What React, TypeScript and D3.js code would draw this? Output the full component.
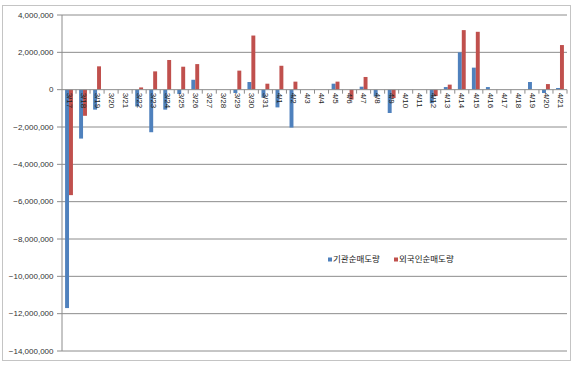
import React from "react";
import * as d3 from "d3";

const categories = [
  "3/17","3/18","3/19","3/20","3/21","3/22","3/23","3/24","3/25","3/26","3/27","3/28","3/29","3/30","3/31",
  "4/1","4/2","4/3","4/4","4/5","4/6","4/7","4/8","4/9","4/10","4/11","4/12","4/13","4/14","4/15","4/16","4/17","4/18","4/19","4/20","4/21",
];
const institution = [
  -11700000,-2620000,-1070000,0,0,-900000,-2280000,-1070000,-230000,530000,0,0,-180000,410000,-430000,
  -950000,-2030000,0,0,320000,0,160000,-370000,-1250000,0,0,-730000,140000,2000000,1180000,140000,0,0,410000,-180000,90000,
];
const foreign = [
  -5650000,-1400000,1250000,0,0,120000,980000,1590000,1230000,1370000,0,0,1020000,2900000,320000,
  1280000,430000,0,0,430000,-530000,680000,0,-450000,0,0,-340000,270000,3190000,3100000,0,0,0,0,300000,2390000,
];
const seriesNames = ["기관순매도량", "외국인순매도량"];
const seriesColors = ["#4F81BD", "#C0504D"];
const yTicks = [4000000, 2000000, 0, -2000000, -4000000, -6000000, -8000000, -10000000, -12000000, -14000000];

export default function App() {
  const W = 580, H = 365;
  const left = 62, right = 567, top = 15, bottom = 351;
  const y = d3.scaleLinear().domain([-14000000, 4000000]).range([bottom, top]);
  const x = d3.scaleBand<string>().domain(categories).range([left, right]).paddingInner(0).paddingOuter(0);
  const bw = x.bandwidth();
  const barW = bw * 0.28;
  const fmt = d3.format(",");
  const y0 = y(0);
  const series = [institution, foreign];
  const font = "Liberation Sans, Arial, sans-serif";

  return (
    <svg width={W} height={H} style={{ position: "absolute", left: 0, top: 0, background: "#fff" }}>
      <rect x={2.5} y={5.5} width={568} height={355} fill="#fff" stroke="#c4c4c4" />
      {yTicks.map((t) => (
        <g key={t}>
          {t !== 0 && <line x1={left} x2={right} y1={y(t)} y2={y(t)} stroke="#8c8c8c" strokeWidth={1} />}
          <line x1={left - 5} x2={left} y1={y(t)} y2={y(t)} stroke="#8c8c8c" />
          <text x={53.5} y={y(t)} dy="0.35em" textAnchor="end" fontSize={8} fontFamily={font} fill="#333">
            {fmt(t)}
          </text>
        </g>
      ))}
      <line x1={left} x2={left} y1={top} y2={bottom} stroke="#8c8c8c" />
      {series.map((vals, si) =>
        vals.map((v, i) => {
          if (v === 0) return null;
          const cx = (x(categories[i]) as number) + bw / 2;
          const bx = si === 0 ? cx - barW : cx;
          return (
            <rect key={`${si}-${i}`} x={bx} width={barW} y={Math.min(y(v), y0)} height={Math.abs(y(v) - y0)} fill={seriesColors[si]} />
          );
        })
      )}
      <line x1={left} x2={right} y1={y0} y2={y0} stroke="#8c8c8c" />
      {categories.map((c, i) => (
        <line key={`t${i}`} x1={(x(c) as number) + bw} x2={(x(c) as number) + bw} y1={y0} y2={y0 + 4} stroke="#8c8c8c" />
      ))}
      {categories.map((c) => {
        const cx = (x(c) as number) + bw / 2 + 0.5;
        return (
          <text key={`l${c}`} transform={`translate(${cx},${y0 + 3}) rotate(90)`} fontSize={8} fontFamily={font} fill="#222" dy="0.35em">
            {c}
          </text>
        );
      })}
      <g fontFamily="Noto Sans CJK KR, sans-serif" fontSize={8.5} fill="#222">
        <rect x={328} y={257.5} width={4} height={4} fill={seriesColors[0]} />
        <text x={333} y={259.5} dy="0.35em">{seriesNames[0]}</text>
        <rect x={394} y={257.5} width={4} height={4} fill={seriesColors[1]} />
        <text x={399} y={259.5} dy="0.35em">{seriesNames[1]}</text>
      </g>
    </svg>
  );
}
